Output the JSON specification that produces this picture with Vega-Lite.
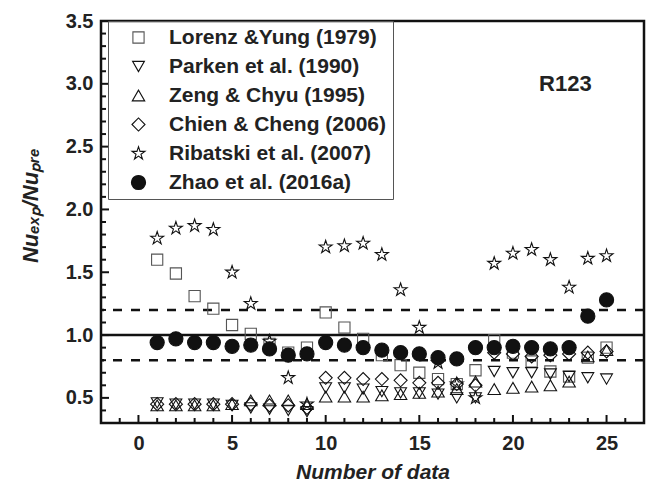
{
"$schema": "https://vega.github.io/schema/vega-lite/v6.json",
"width": 543, "height": 402,
"autosize": {"type": "none"},
"padding": {"left": 101, "top": 21, "right": 2, "bottom": 59},
"background": "white",
"config": {"view": {"stroke": "#111", "strokeWidth": 2.5}, "font": "Liberation Sans",
 "axis": {"labelOverlap": false, "labelFlush": false, "labelBound": false, "grid": false, "domain": false, "ticks": false, "tickCount": 100,
  "labelFontSize": 20, "labelFontWeight": "bold", "labelColor": "#222", "titleColor": "#222", "titleFontWeight": "bold", "titleFontStyle": "italic"}},
"datasets": {
"xmaj": [{"x":0},{"x":5},{"x":10},{"x":15},{"x":20},{"x":25}],
"xmin": [{"x":-1},{"x":1},{"x":2},{"x":3},{"x":4},{"x":6},{"x":7},{"x":8},{"x":9},{"x":11},{"x":12},{"x":13},{"x":14},{"x":16},{"x":17},{"x":18},{"x":19},{"x":21},{"x":22},{"x":23},{"x":24},{"x":26}],
"ymaj": [{"v":0.5},{"v":1.0},{"v":1.5},{"v":2.0},{"v":2.5},{"v":3.0}],
"ymin": [{"v":0.4},{"v":0.6},{"v":0.7},{"v":0.8},{"v":0.9},{"v":1.1},{"v":1.2},{"v":1.3},{"v":1.4},{"v":1.6},{"v":1.7},{"v":1.8},{"v":1.9},{"v":2.1},{"v":2.2},{"v":2.3},{"v":2.4},{"v":2.6},{"v":2.7},{"v":2.8},{"v":2.9},{"v":3.1},{"v":3.2},{"v":3.3},{"v":3.4}],
"pts": [
{"m":"Lorenz &Yung (1979)","x":1,"v":1.60},{"m":"Lorenz &Yung (1979)","x":2,"v":1.49},{"m":"Lorenz &Yung (1979)","x":3,"v":1.31},{"m":"Lorenz &Yung (1979)","x":4,"v":1.21},{"m":"Lorenz &Yung (1979)","x":5,"v":1.08},{"m":"Lorenz &Yung (1979)","x":6,"v":1.01},{"m":"Lorenz &Yung (1979)","x":7,"v":0.93},{"m":"Lorenz &Yung (1979)","x":8,"v":0.86},{"m":"Lorenz &Yung (1979)","x":9,"v":0.90},{"m":"Lorenz &Yung (1979)","x":10,"v":1.18},{"m":"Lorenz &Yung (1979)","x":11,"v":1.06},{"m":"Lorenz &Yung (1979)","x":12,"v":0.97},{"m":"Lorenz &Yung (1979)","x":13,"v":0.84},{"m":"Lorenz &Yung (1979)","x":14,"v":0.76},{"m":"Lorenz &Yung (1979)","x":15,"v":0.70},{"m":"Lorenz &Yung (1979)","x":16,"v":0.65},{"m":"Lorenz &Yung (1979)","x":17,"v":0.61},{"m":"Lorenz &Yung (1979)","x":18,"v":0.72},{"m":"Lorenz &Yung (1979)","x":19,"v":0.96},{"m":"Lorenz &Yung (1979)","x":20,"v":0.86},{"m":"Lorenz &Yung (1979)","x":21,"v":0.79},{"m":"Lorenz &Yung (1979)","x":22,"v":0.71},{"m":"Lorenz &Yung (1979)","x":23,"v":0.67},{"m":"Lorenz &Yung (1979)","x":24,"v":0.82},{"m":"Lorenz &Yung (1979)","x":25,"v":0.90},
{"m":"Parken et al. (1990)","x":1,"v":0.46},{"m":"Parken et al. (1990)","x":2,"v":0.45},{"m":"Parken et al. (1990)","x":3,"v":0.45},{"m":"Parken et al. (1990)","x":4,"v":0.45},{"m":"Parken et al. (1990)","x":5,"v":0.44},{"m":"Parken et al. (1990)","x":6,"v":0.42},{"m":"Parken et al. (1990)","x":7,"v":0.41},{"m":"Parken et al. (1990)","x":8,"v":0.40},{"m":"Parken et al. (1990)","x":9,"v":0.39},{"m":"Parken et al. (1990)","x":10,"v":0.58},{"m":"Parken et al. (1990)","x":11,"v":0.58},{"m":"Parken et al. (1990)","x":12,"v":0.57},{"m":"Parken et al. (1990)","x":13,"v":0.55},{"m":"Parken et al. (1990)","x":14,"v":0.54},{"m":"Parken et al. (1990)","x":15,"v":0.54},{"m":"Parken et al. (1990)","x":16,"v":0.53},{"m":"Parken et al. (1990)","x":17,"v":0.50},{"m":"Parken et al. (1990)","x":18,"v":0.50},{"m":"Parken et al. (1990)","x":19,"v":0.71},{"m":"Parken et al. (1990)","x":20,"v":0.70},{"m":"Parken et al. (1990)","x":21,"v":0.70},{"m":"Parken et al. (1990)","x":22,"v":0.69},{"m":"Parken et al. (1990)","x":23,"v":0.67},{"m":"Parken et al. (1990)","x":24,"v":0.66},{"m":"Parken et al. (1990)","x":25,"v":0.65},
{"m":"Zeng & Chyu (1995)","x":1,"v":0.44},{"m":"Zeng & Chyu (1995)","x":2,"v":0.44},{"m":"Zeng & Chyu (1995)","x":3,"v":0.44},{"m":"Zeng & Chyu (1995)","x":4,"v":0.44},{"m":"Zeng & Chyu (1995)","x":5,"v":0.45},{"m":"Zeng & Chyu (1995)","x":6,"v":0.48},{"m":"Zeng & Chyu (1995)","x":7,"v":0.48},{"m":"Zeng & Chyu (1995)","x":8,"v":0.48},{"m":"Zeng & Chyu (1995)","x":9,"v":0.45},{"m":"Zeng & Chyu (1995)","x":10,"v":0.51},{"m":"Zeng & Chyu (1995)","x":11,"v":0.51},{"m":"Zeng & Chyu (1995)","x":12,"v":0.51},{"m":"Zeng & Chyu (1995)","x":13,"v":0.52},{"m":"Zeng & Chyu (1995)","x":14,"v":0.53},{"m":"Zeng & Chyu (1995)","x":15,"v":0.54},{"m":"Zeng & Chyu (1995)","x":16,"v":0.55},{"m":"Zeng & Chyu (1995)","x":17,"v":0.57},{"m":"Zeng & Chyu (1995)","x":18,"v":0.63},{"m":"Zeng & Chyu (1995)","x":19,"v":0.57},{"m":"Zeng & Chyu (1995)","x":20,"v":0.58},{"m":"Zeng & Chyu (1995)","x":21,"v":0.59},{"m":"Zeng & Chyu (1995)","x":22,"v":0.60},{"m":"Zeng & Chyu (1995)","x":23,"v":0.63},{"m":"Zeng & Chyu (1995)","x":24,"v":0.83},{"m":"Zeng & Chyu (1995)","x":25,"v":0.88},
{"m":"Chien & Cheng (2006)","x":1,"v":0.45},{"m":"Chien & Cheng (2006)","x":2,"v":0.45},{"m":"Chien & Cheng (2006)","x":3,"v":0.45},{"m":"Chien & Cheng (2006)","x":4,"v":0.45},{"m":"Chien & Cheng (2006)","x":5,"v":0.45},{"m":"Chien & Cheng (2006)","x":6,"v":0.45},{"m":"Chien & Cheng (2006)","x":7,"v":0.44},{"m":"Chien & Cheng (2006)","x":8,"v":0.44},{"m":"Chien & Cheng (2006)","x":9,"v":0.42},{"m":"Chien & Cheng (2006)","x":10,"v":0.66},{"m":"Chien & Cheng (2006)","x":11,"v":0.66},{"m":"Chien & Cheng (2006)","x":12,"v":0.65},{"m":"Chien & Cheng (2006)","x":13,"v":0.65},{"m":"Chien & Cheng (2006)","x":14,"v":0.64},{"m":"Chien & Cheng (2006)","x":15,"v":0.62},{"m":"Chien & Cheng (2006)","x":16,"v":0.62},{"m":"Chien & Cheng (2006)","x":17,"v":0.61},{"m":"Chien & Cheng (2006)","x":18,"v":0.60},{"m":"Chien & Cheng (2006)","x":19,"v":0.86},{"m":"Chien & Cheng (2006)","x":20,"v":0.85},{"m":"Chien & Cheng (2006)","x":21,"v":0.83},{"m":"Chien & Cheng (2006)","x":22,"v":0.84},{"m":"Chien & Cheng (2006)","x":23,"v":0.85},{"m":"Chien & Cheng (2006)","x":24,"v":0.86},{"m":"Chien & Cheng (2006)","x":25,"v":0.87},
{"m":"Ribatski et al. (2007)","x":1,"v":1.77},{"m":"Ribatski et al. (2007)","x":2,"v":1.85},{"m":"Ribatski et al. (2007)","x":3,"v":1.87},{"m":"Ribatski et al. (2007)","x":4,"v":1.84},{"m":"Ribatski et al. (2007)","x":5,"v":1.50},{"m":"Ribatski et al. (2007)","x":6,"v":1.25},{"m":"Ribatski et al. (2007)","x":7,"v":0.95},{"m":"Ribatski et al. (2007)","x":8,"v":0.66},{"m":"Ribatski et al. (2007)","x":9,"v":0.45},{"m":"Ribatski et al. (2007)","x":10,"v":1.70},{"m":"Ribatski et al. (2007)","x":11,"v":1.71},{"m":"Ribatski et al. (2007)","x":12,"v":1.73},{"m":"Ribatski et al. (2007)","x":13,"v":1.64},{"m":"Ribatski et al. (2007)","x":14,"v":1.36},{"m":"Ribatski et al. (2007)","x":15,"v":1.06},{"m":"Ribatski et al. (2007)","x":16,"v":0.78},{"m":"Ribatski et al. (2007)","x":17,"v":0.61},{"m":"Ribatski et al. (2007)","x":18,"v":0.50},{"m":"Ribatski et al. (2007)","x":19,"v":1.57},{"m":"Ribatski et al. (2007)","x":20,"v":1.65},{"m":"Ribatski et al. (2007)","x":21,"v":1.68},{"m":"Ribatski et al. (2007)","x":22,"v":1.60},{"m":"Ribatski et al. (2007)","x":23,"v":1.38},{"m":"Ribatski et al. (2007)","x":24,"v":1.61},{"m":"Ribatski et al. (2007)","x":25,"v":1.63},
{"m":"Zhao et al. (2016a)","x":1,"v":0.94},{"m":"Zhao et al. (2016a)","x":2,"v":0.97},{"m":"Zhao et al. (2016a)","x":3,"v":0.94},{"m":"Zhao et al. (2016a)","x":4,"v":0.94},{"m":"Zhao et al. (2016a)","x":5,"v":0.91},{"m":"Zhao et al. (2016a)","x":6,"v":0.92},{"m":"Zhao et al. (2016a)","x":7,"v":0.89},{"m":"Zhao et al. (2016a)","x":8,"v":0.84},{"m":"Zhao et al. (2016a)","x":9,"v":0.85},{"m":"Zhao et al. (2016a)","x":10,"v":0.94},{"m":"Zhao et al. (2016a)","x":11,"v":0.92},{"m":"Zhao et al. (2016a)","x":12,"v":0.90},{"m":"Zhao et al. (2016a)","x":13,"v":0.88},{"m":"Zhao et al. (2016a)","x":14,"v":0.86},{"m":"Zhao et al. (2016a)","x":15,"v":0.85},{"m":"Zhao et al. (2016a)","x":16,"v":0.82},{"m":"Zhao et al. (2016a)","x":17,"v":0.81},{"m":"Zhao et al. (2016a)","x":18,"v":0.90},{"m":"Zhao et al. (2016a)","x":19,"v":0.90},{"m":"Zhao et al. (2016a)","x":20,"v":0.91},{"m":"Zhao et al. (2016a)","x":21,"v":0.90},{"m":"Zhao et al. (2016a)","x":22,"v":0.89},{"m":"Zhao et al. (2016a)","x":23,"v":0.90},{"m":"Zhao et al. (2016a)","x":24,"v":1.15},{"m":"Zhao et al. (2016a)","x":25,"v":1.28}
]
},
"layer": [
{"data": {"values": [{"v": 1.0}]},
 "mark": {"type": "rule", "color": "#111", "strokeWidth": 2.5},
 "encoding": {"y": {"field": "v", "type": "quantitative"}}},
{"data": {"values": [{"v": 1.2}, {"v": 0.8}]},
 "mark": {"type": "rule", "color": "#111", "strokeWidth": 2.5, "strokeDash": [9, 9]},
 "encoding": {"y": {"field": "v", "type": "quantitative"}}},
{"data": {"name": "xmaj"},
 "mark": {"type": "tick", "orient": "vertical", "size": 8, "thickness": 2, "color": "#111", "opacity": 1, "yOffset": -4},
 "encoding": {"x": {"field": "x", "type": "quantitative"}, "y": {"datum": 0.3}}},
{"data": {"name": "xmin"},
 "mark": {"type": "tick", "orient": "vertical", "size": 5, "thickness": 2, "color": "#111", "opacity": 1, "yOffset": -2.5},
 "encoding": {"x": {"field": "x", "type": "quantitative"}, "y": {"datum": 0.3}}},
{"data": {"name": "ymaj"},
 "mark": {"type": "tick", "orient": "horizontal", "size": 8, "thickness": 2, "color": "#111", "opacity": 1, "xOffset": 4},
 "encoding": {"y": {"field": "v", "type": "quantitative"}, "x": {"datum": -2}}},
{"data": {"name": "ymin"},
 "mark": {"type": "tick", "orient": "horizontal", "size": 5, "thickness": 2, "color": "#111", "opacity": 1, "xOffset": 2.5},
 "encoding": {"y": {"field": "v", "type": "quantitative"}, "x": {"datum": -2}}},
{"data": {"name": "pts"},
 "mark": {"type": "point", "filled": true, "opacity": 1, "strokeWidth": 1.1},
 "encoding": {
  "x": {"field": "x", "type": "quantitative",
   "scale": {"domain": [-2, 27], "nice": false, "zero": false},
   "axis": {"values": [0,5,10,15,20,25], "format": "d",
    "title": "Number of data", "titleFontSize": 21, "titlePadding": 8, "labelPadding": 10}},
  "y": {"field": "v", "type": "quantitative",
   "scale": {"domain": [0.3, 3.5], "nice": false, "zero": false},
   "axis": {"values": [0.5,1.0,1.5,2.0,2.5,3.0,3.5], "format": ".1f",
    "title": "Nuₑₓₚ/Nuₚᵣₑ", "titleFontSize": 22, "titleX": -59, "titleY": 184, "titleBaseline": "bottom", "labelPadding": 8}},
  "shape": {"field": "m", "type": "nominal",
   "scale": {"domain": ["Lorenz &Yung (1979)","Parken et al. (1990)","Zeng & Chyu (1995)","Chien & Cheng (2006)","Ribatski et al. (2007)","Zhao et al. (2016a)"],
    "range": ["square","triangle-down","triangle-up","diamond","M0,-1L0.2245,-0.309L0.951,-0.309L0.363,0.118L0.588,0.809L0,0.382L-0.588,0.809L-0.363,0.118L-0.951,-0.309L-0.2245,-0.309Z","circle"]},
   "legend": {"title": null, "orient": "none", "legendX": 7, "legendY": 0, "strokeColor": "#555", "padding": 6, "rowPadding": 7, "labelLimit": 400,
    "labelFontSize": 21, "labelFontWeight": "bold", "labelFont": "Liberation Sans", "labelColor": "#222", "symbolOffset": 14, "labelOffset": 20, "symbolStrokeWidth": 1.1}},
  "fill": {"field": "m", "type": "nominal",
   "scale": {"domain": ["Lorenz &Yung (1979)","Parken et al. (1990)","Zeng & Chyu (1995)","Chien & Cheng (2006)","Ribatski et al. (2007)","Zhao et al. (2016a)"],
    "range": ["transparent","transparent","transparent","transparent","transparent","#111"]}},
  "stroke": {"field": "m", "type": "nominal",
   "scale": {"domain": ["Lorenz &Yung (1979)","Parken et al. (1990)","Zeng & Chyu (1995)","Chien & Cheng (2006)","Ribatski et al. (2007)","Zhao et al. (2016a)"],
    "range": ["#555","#111","#111","#111","#111","#111"]}},
  "size": {"field": "m", "type": "nominal",
   "scale": {"domain": ["Lorenz &Yung (1979)","Parken et al. (1990)","Zeng & Chyu (1995)","Chien & Cheng (2006)","Ribatski et al. (2007)","Zhao et al. (2016a)"],
    "range": [125, 200, 200, 220, 210, 170]}}
 }},
{"data": {"values": [{"x": 22.8, "v": 3.0, "label": "R123"}]},
 "mark": {"type": "text", "fontSize": 22, "fontWeight": "bold", "color": "#222", "align": "center", "baseline": "middle"},
 "encoding": {"x": {"field": "x", "type": "quantitative"}, "y": {"field": "v", "type": "quantitative"}, "text": {"field": "label"}}}
]
}
